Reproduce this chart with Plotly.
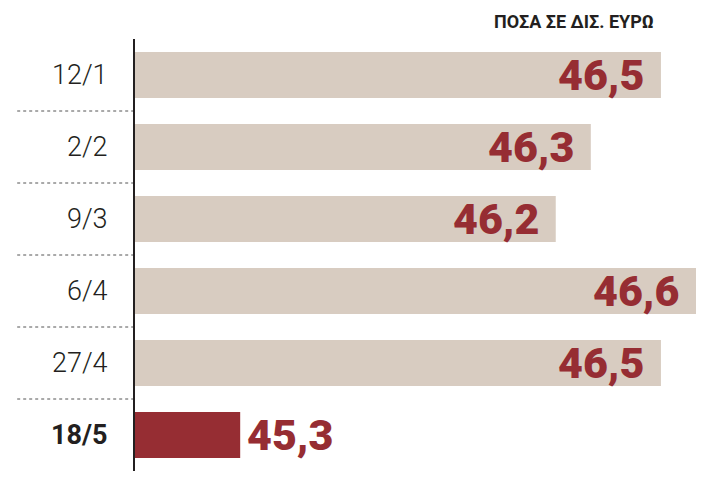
import plotly.graph_objects as go

categories = ["12/1", "2/2", "9/3", "6/4", "27/4", "18/5"]
values = [46.5, 46.3, 46.2, 46.6, 46.5, 45.3]
tick_labels = ["12/1", "2/2", "9/3", "6/4", "27/4", "<b>18/5</b>"]
title_text = "ΠΟΣΑ ΣΕ ΔΙΣ. ΕΥΡΩ"

GRAY = "#d8ccc1"
RED = "#962d33"
colors = [GRAY] * (len(values) - 1) + [RED]

fig = go.Figure(go.Bar(
    x=values, y=categories, orientation="h",
    marker=dict(color=colors, line=dict(width=0)),
    hoverinfo="skip",
))

annotations = []
for i, (c, v) in enumerate(zip(categories, values)):
    label = f"{v:.1f}".replace(".", ",")
    last = i == len(values) - 1
    annotations.append(dict(
        x=v, y=c, xref="x", yref="y", text=label, showarrow=False,
        xanchor="left" if last else "right",
        xshift=5 if last else -15, yshift=0,
        font=dict(family="Roboto, sans-serif", size=43, color=RED, weight=900),
    ))
annotations.append(dict(
    x=0.929, y=1.04, xref="paper", yref="paper", text=title_text, showarrow=False,
    xanchor="right", yanchor="middle",
    font=dict(family="Roboto, sans-serif", size=18, color="#231f20", weight="bold"),
))

shapes = []
for k in range(len(categories) - 1):
    shapes.append(dict(
        type="line", xref="paper", yref="y", x0=-0.21, x1=0, y0=k + 0.5, y1=k + 0.5,
        line=dict(color="#555555", width=1, dash="dot"), layer="below",
    ))

fig.update_layout(
    width=706, height=486,
    margin=dict(l=135, r=10, t=39, b=15),
    paper_bgcolor="white", plot_bgcolor="white",
    bargap=0.36, showlegend=False,
    annotations=annotations, shapes=shapes,
    xaxis=dict(range=[45.0, 46.6], visible=False, fixedrange=True),
    yaxis=dict(
        type="category", categoryorder="array", categoryarray=categories,
        autorange="reversed", tickvals=categories, ticktext=tick_labels,
        showline=True, linecolor="#231f20", linewidth=2, showgrid=False,
        ticks="", ticklabelstandoff=20, zeroline=False,
        tickfont=dict(family="Roboto, sans-serif", size=27, color="#231f20", weight=300),
    ),
)

fig.write_html("out.html")
